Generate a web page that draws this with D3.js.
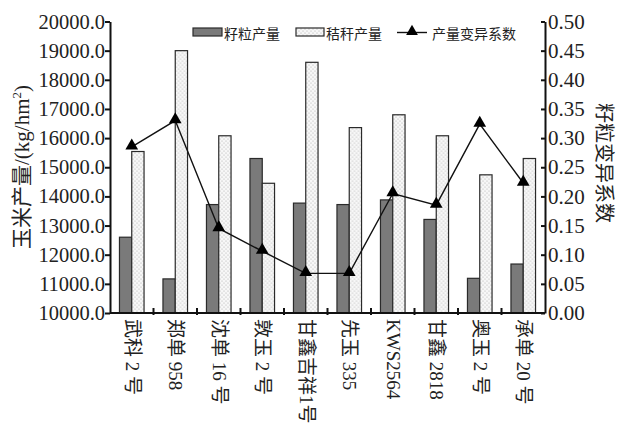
<!DOCTYPE html>
<html>
<head>
<meta charset="utf-8">
<script src="https://cdn.jsdelivr.net/npm/d3@7"></script>
<style>
  body { margin: 0; background: #fff; }
  svg text { fill: #222; }
  .serif { font-family: 'Liberation Serif', 'Noto Sans CJK SC', serif; }
  .cjk { font-family: 'Noto Sans CJK SC', sans-serif; }
</style>
</head>
<body>
<div id="chart"></div>
<script>
// data
const varieties = ['武科 2 号', '郑单 958', '沈单 16 号', '敦玉 2 号', '甘鑫吉祥1号', '先玉 335', 'KWS2564', '甘鑫 2818', '奥玉 2 号', '承单 20 号'];
const grainYield = [12600, 11170, 13720, 15300, 13770, 13720, 13880, 13210, 11190, 11680];
const strawYield = [15540, 19000, 16080, 14450, 18600, 16360, 16800, 16080, 14740, 15300];
const cv = [0.285, 0.330, 0.145, 0.106, 0.068, 0.068, 0.205, 0.185, 0.324, 0.223];
const leftTicks = [10000, 11000, 12000, 13000, 14000, 15000, 16000, 17000, 18000, 19000, 20000];
const rightTicks = [0, 0.05, 0.1, 0.15, 0.2, 0.25, 0.3, 0.35, 0.4, 0.45, 0.5];

const W = 625, H = 433;
const x0 = 110, x1 = 545, yTop = 21.5, yBot = 313;

const svg = d3.select('#chart').append('svg')
  .attr('width', W)
  .attr('height', H);

// dotted fill for straw bars
const pat = svg.append('defs').append('pattern')
  .attr('id', 'stipple')
  .attr('patternUnits', 'userSpaceOnUse')
  .attr('width', 4).attr('height', 4);
pat.append('rect').attr('width', 4).attr('height', 4).attr('fill', '#f7f7f7');
pat.append('circle').attr('cx', 1).attr('cy', 1).attr('r', 0.55).attr('fill', '#aaa');
pat.append('circle').attr('cx', 3).attr('cy', 3).attr('r', 0.55).attr('fill', '#aaa');

const x = d3.scaleBand().domain(varieties).range([x0, x1]).padding(0);
const sub = d3.scaleBand().domain(['grain', 'straw']).range([0, x.bandwidth()])
  .paddingInner(0).paddingOuter(0.77);
const yL = d3.scaleLinear().domain([10000, 20000]).range([yBot, yTop]);
const yR = d3.scaleLinear().domain([0, 0.5]).range([yBot, yTop]);

// bars
const groups = svg.append('g').selectAll('g')
  .data(varieties)
  .join('g')
  .attr('transform', d => `translate(${x(d)},0)`);

groups.append('rect')
  .attr('x', sub('grain'))
  .attr('width', sub.bandwidth())
  .attr('y', (d, i) => yL(grainYield[i]))
  .attr('height', (d, i) => yBot - yL(grainYield[i]))
  .attr('fill', '#7a7a7a')
  .attr('stroke', '#2a2a2a')
  .attr('stroke-width', 1.2);

groups.append('rect')
  .attr('x', sub('straw'))
  .attr('width', sub.bandwidth())
  .attr('y', (d, i) => yL(strawYield[i]))
  .attr('height', (d, i) => yBot - yL(strawYield[i]))
  .attr('fill', 'url(#stipple)')
  .attr('stroke', '#2a2a2a')
  .attr('stroke-width', 1.2);

// coefficient of variation line
const pts = varieties.map((d, i) => [x(d) + x.bandwidth() / 2, yR(cv[i])]);
svg.append('path')
  .attr('d', d3.line()(pts))
  .attr('fill', 'none')
  .attr('stroke', '#111')
  .attr('stroke-width', 1.4);

svg.append('g').selectAll('path')
  .data(pts)
  .join('path')
  .attr('transform', d => `translate(${d[0]},${d[1] - 1})`)
  .attr('d', d3.symbol().type(d3.symbolTriangle).size(70))
  .attr('fill', '#000');

// left axis
const axL = svg.append('g')
  .attr('transform', `translate(${x0},0)`)
  .call(d3.axisLeft(yL).tickValues(leftTicks).tickFormat(d3.format('.1f')).tickSize(5).tickSizeOuter(0));
axL.attr('font-family', null).attr('font-size', null);
axL.select('.domain').attr('stroke', '#111').attr('stroke-width', 2);
axL.selectAll('.tick line').attr('stroke', '#111').attr('stroke-width', 2);
axL.selectAll('.tick text')
  .attr('class', 'serif')
  .attr('x', -5)
  .style('font-size', '20.5px')
  .attr('fill', '#222');

// right axis
const axR = svg.append('g')
  .attr('transform', `translate(${x1},0)`)
  .call(d3.axisRight(yR).tickValues(rightTicks).tickFormat(d3.format('.2f')).tickSize(-4).tickSizeOuter(0));
axR.attr('font-family', null).attr('font-size', null);
axR.select('.domain').attr('stroke', '#111').attr('stroke-width', 2);
axR.selectAll('.tick line').attr('stroke', '#111').attr('stroke-width', 2);
axR.selectAll('.tick text')
  .attr('class', 'serif')
  .attr('x', 3)
  .style('font-size', '21px')
  .attr('fill', '#222');

// bottom axis
const axB = svg.append('g')
  .attr('transform', `translate(0,${yBot})`);
axB.append('line')
  .attr('x1', x0).attr('x2', x1)
  .attr('stroke', '#111').attr('stroke-width', 2.2);
axB.selectAll('line.tk')
  .data(varieties.slice(1))
  .join('line')
  .attr('class', 'tk')
  .attr('x1', d => x(d)).attr('x2', d => x(d))
  .attr('y1', -5).attr('y2', 2)
  .attr('stroke', '#111').attr('stroke-width', 2);

axB.selectAll('text')
  .data(varieties)
  .join('text')
  .attr('class', 'serif')
  .attr('transform', d => `translate(${x(d) + x.bandwidth() / 2 - 6},6) rotate(90)`)
  .style('font-size', '19px')
  .attr('fill', '#222')
  .attr('text-anchor', 'start')
  .text(d => d);

// axis titles
const lt = svg.append('text')
  .attr('class', 'serif')
  .attr('transform', 'translate(29,167) rotate(-90)')
  .attr('text-anchor', 'middle')
  .style('font-size', '21px')
  .attr('fill', '#444');
lt.append('tspan').text('玉米产量/(kg/hm');
lt.append('tspan').style('font-size', '13px').attr('dy', -8).text('2');
lt.append('tspan').attr('dy', 8).text(')');

svg.append('text')
  .attr('class', 'cjk')
  .attr('transform', 'translate(597,163) rotate(90)')
  .attr('text-anchor', 'middle')
  .style('font-size', '20px')
  .attr('fill', '#444')
  .text('籽粒变异系数');

// legend
const lg = svg.append('g');
lg.append('rect').attr('x', 193).attr('y', 28).attr('width', 29).attr('height', 8)
  .attr('fill', '#7a7a7a').attr('stroke', '#2a2a2a').attr('stroke-width', 1.2);
lg.append('text').attr('class', 'cjk').attr('x', 224).attr('y', 38.5).style('font-size', '14px').text('籽粒产量');
lg.append('rect').attr('x', 296).attr('y', 28).attr('width', 28).attr('height', 8)
  .attr('fill', 'url(#stipple)').attr('stroke', '#2a2a2a').attr('stroke-width', 1.2);
lg.append('text').attr('class', 'cjk').attr('x', 326).attr('y', 38.5).style('font-size', '14px').text('秸秆产量');
lg.append('line').attr('x1', 397).attr('x2', 427).attr('y1', 32.5).attr('y2', 32.5)
  .attr('stroke', '#111').attr('stroke-width', 1.4);
lg.append('path').attr('transform', 'translate(412,31.5)')
  .attr('d', d3.symbol().type(d3.symbolTriangle).size(60)).attr('fill', '#000');
lg.append('text').attr('class', 'cjk').attr('x', 432).attr('y', 38.5).style('font-size', '14px').text('产量变异系数');
</script>
</body>
</html>
